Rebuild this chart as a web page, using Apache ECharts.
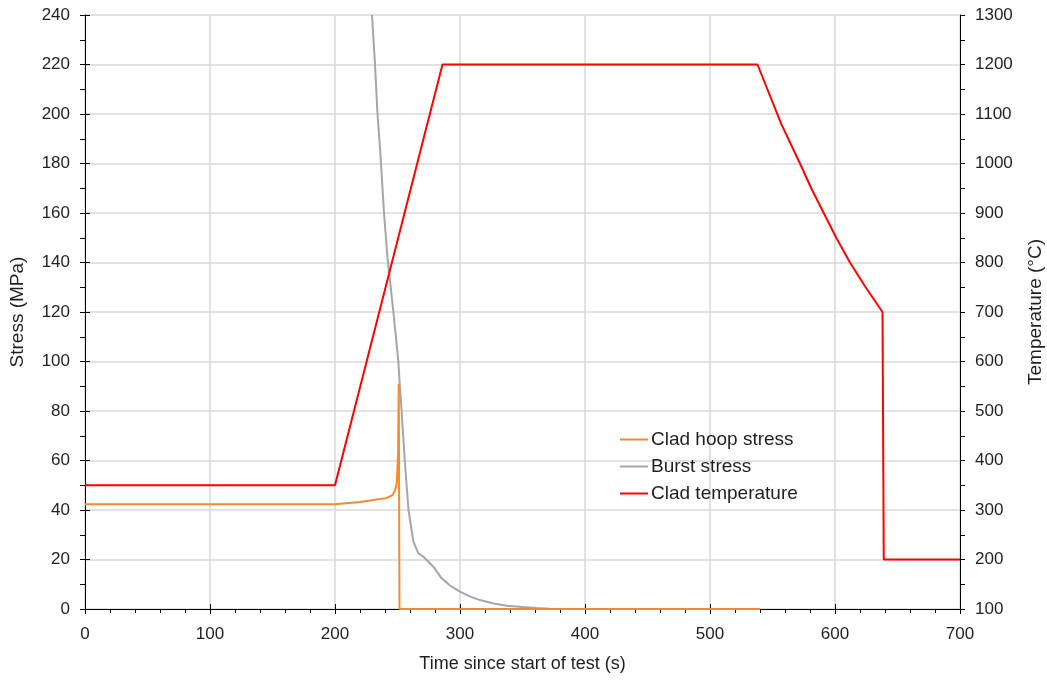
<!DOCTYPE html>
<html>
<head>
<meta charset="utf-8">
<script src="https://cdn.jsdelivr.net/npm/echarts@6/dist/echarts.min.js"></script>
<style>
html,body{margin:0;padding:0;background:#fff;}
#chart{width:1047px;height:680px;}
</style>
</head>
<body>
<div id="chart"></div>
<script>
// ---- data ----
var seriesNames = ['Clad hoop stress', 'Burst stress', 'Clad temperature'];

var hoopTime   = [0, 200, 220, 241, 246, 248, 249.5, 250.5, 251.0, 251.6, 540];
var hoopStress = [42.3, 42.3, 43.2, 44.8, 46, 48, 51, 63, 91, 0, 0];

var burstTime   = [229.6, 232, 234, 235.5, 236.8, 239.2, 242, 246.7, 250.7, 251.5, 253.3, 255.8, 258.8, 262.7, 266.7, 270.7, 278.7, 285.3, 292, 300, 308, 316, 326, 337.3, 350, 361.3, 372, 385, 400];
var burstStress = [240, 220, 200, 190, 180, 160, 142, 120, 100, 93, 80, 60, 40, 27.2, 22.5, 21.1, 17.1, 12.4, 9.5, 7.0, 5.0, 3.6, 2.3, 1.35, 0.8, 0.4, 0.15, 0, 0];

var tempTime  = [0, 200, 286, 538, 557, 572, 581, 591, 601, 612, 624.5, 638, 639, 700];
var tempValue = [350, 350, 1200, 1200, 1080, 1000, 950, 900, 850, 800, 750, 700, 200, 200];

var xTicks = {min: 0, max: 700, interval: 100};
var stressTicks = {min: 0, max: 240, interval: 20};
var tempTicks = {min: 100, max: 1300, interval: 100};

function pairs(xs, ys) { return xs.map(function (x, i) { return [x, ys[i]]; }); }

var colors = ['#f7882f', '#a6a6a6', '#ff0000'];
var font = 'Liberation Sans, Arial, sans-serif';
var textColor = '#1f1f1f';
var axisColor = '#000000';
var gridColor = '#d9d9d9';

var chart = echarts.init(document.getElementById('chart'), null, {renderer: 'canvas'});

function innerTickAxis(base, pos, extra) {
  return Object.assign({
    type: 'value', position: pos, min: base.min, max: base.max, interval: base.interval,
    axisLine: {show: false}, axisLabel: {show: false}, splitLine: {show: false},
    axisTick: {show: true, inside: true, length: 5, lineStyle: {color: axisColor, width: 1}},
    minorTick: {show: false}
  }, extra || {});
}
function plain(v) { return String(v); }

var option = {
  animation: false,
  backgroundColor: '#ffffff',
  textStyle: {fontFamily: font},
  grid: {left: 85, right: 87, top: 15, bottom: 71, containLabel: false, outerBoundsMode: 'none'},
  legend: {
    orient: 'vertical', left: 615, top: 425,
    itemWidth: 28, itemHeight: 2, itemGap: 8,
    icon: 'rect',
    textStyle: {fontSize: 19, color: textColor, fontFamily: font, padding: [0, 0, 0, -2]},
    data: seriesNames.map(function (n, i) { return {name: n, itemStyle: {color: colors[i]}}; })
  },
  xAxis: [
    {
      type: 'value', min: xTicks.min, max: xTicks.max, interval: xTicks.interval, position: 'bottom',
      name: 'Time since start of test (s)', nameLocation: 'middle', nameGap: 46,
      nameTextStyle: {fontSize: 18, color: textColor, fontFamily: font},
      axisLine: {show: true, onZero: false, lineStyle: {color: axisColor, width: 1}},
      axisTick: {show: true, inside: false, length: 5, lineStyle: {color: axisColor}},
      minorTick: {show: true, splitNumber: 5, length: 4, lineStyle: {color: axisColor}},
      axisLabel: {fontSize: 17, color: textColor, margin: 17, fontFamily: font, formatter: plain},
      splitLine: {show: true, lineStyle: {color: gridColor, width: 1.5}}
    },
    innerTickAxis(xTicks, 'bottom', {gridIndex: 0})
  ],
  yAxis: [
    {
      type: 'value', min: stressTicks.min, max: stressTicks.max, interval: stressTicks.interval, position: 'left',
      name: 'Stress (MPa)', nameLocation: 'middle', nameGap: 58, nameRotate: 90,
      nameTextStyle: {fontSize: 19, color: textColor, fontFamily: font},
      axisLine: {show: true, onZero: false, lineStyle: {color: axisColor, width: 1}},
      axisTick: {show: true, inside: false, length: 5, lineStyle: {color: axisColor}},
      minorTick: {show: true, splitNumber: 2, length: 5, lineStyle: {color: axisColor}},
      axisLabel: {fontSize: 17, color: textColor, margin: 15, fontFamily: font, formatter: plain},
      splitLine: {show: true, lineStyle: {color: gridColor, width: 1.5}}
    },
    {
      type: 'value', min: tempTicks.min, max: tempTicks.max, interval: tempTicks.interval, position: 'right',
      name: 'Temperature (°C)', nameLocation: 'middle', nameGap: 66, nameRotate: 90,
      nameTextStyle: {fontSize: 19, color: textColor, fontFamily: font},
      axisLine: {show: true, onZero: false, lineStyle: {color: axisColor, width: 1}},
      axisTick: {show: true, inside: false, length: 5, lineStyle: {color: axisColor}},
      minorTick: {show: true, splitNumber: 2, length: 5, lineStyle: {color: axisColor}},
      axisLabel: {fontSize: 17, color: textColor, margin: 15, fontFamily: font, formatter: plain},
      splitLine: {show: false}
    },
    innerTickAxis(stressTicks, 'left'),
    innerTickAxis(tempTicks, 'right')
  ],
  series: [
    {
      name: seriesNames[0], type: 'line', xAxisIndex: 0, yAxisIndex: 0,
      data: pairs(hoopTime, hoopStress), showSymbol: false, symbol: 'none',
      lineStyle: {color: colors[0], width: 2}, itemStyle: {color: colors[0]}, z: 4
    },
    {
      name: seriesNames[1], type: 'line', xAxisIndex: 0, yAxisIndex: 0,
      data: pairs(burstTime, burstStress), showSymbol: false, symbol: 'none',
      lineStyle: {color: colors[1], width: 2}, itemStyle: {color: colors[1]}, z: 3
    },
    {
      name: seriesNames[2], type: 'line', xAxisIndex: 0, yAxisIndex: 1,
      data: pairs(tempTime, tempValue), showSymbol: false, symbol: 'none',
      lineStyle: {color: colors[2], width: 2}, itemStyle: {color: colors[2]}, z: 5
    }
  ]
};
chart.setOption(option);
</script>
</body>
</html>
